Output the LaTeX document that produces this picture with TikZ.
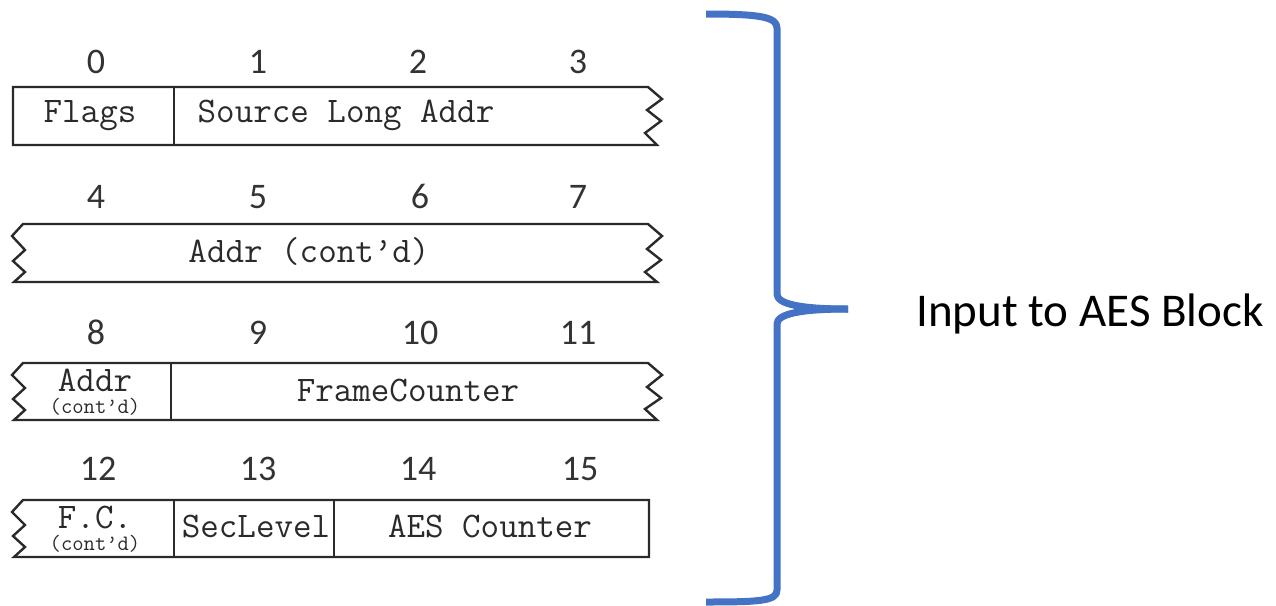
\documentclass[tikz,border=0pt]{standalone}
\usepackage{fontspec}
\setmainfont{Carlito}
\definecolor{braceblue}{HTML}{4472C4}
\definecolor{ink}{HTML}{2A2A2A}
\newcommand{\smalltt}[1]{{\fontsize{22}{25}\selectfont #1}}
\tikzset{
  field/.style={draw=ink, line width=2.4pt, line join=miter},
  sep/.style={draw=ink, line width=2.4pt},
  num/.style={anchor=base, inner sep=0pt, text=black!80, font=\fontsize{36}{40}\selectfont},
  lbl/.style={anchor=base, inner sep=0pt, text=ink, font=\ttfamily\fontsize{36}{40}\selectfont},
  stack/.style={anchor=center, inner sep=0pt, align=center, text=ink, font=\ttfamily\fontsize{36}{22}\selectfont},
  bracestyle/.style={draw=braceblue, line width=7pt, line cap=butt, line join=round},
}
\begin{document}
\begin{tikzpicture}[x=1pt,y=-1pt]
\useasboundingbox (0,0) rectangle (1276,605);
% numbers
\node[num] (n0) at (96,73) {0};
\node[num] (n1) at (258,73) {1};
\node[num] (n2) at (418,73) {2};
\node[num] (n3) at (578,73) {3};
\node[num] (n4) at (96,208) {4};
\node[num] (n5) at (258,208) {5};
\node[num] (n6) at (420,208) {6};
\node[num] (n7) at (578,208) {7};
\node[num] (n8) at (96,344) {8};
\node[num] (n9) at (258,344) {9};
\node[num] (n10) at (420,344) {10};
\node[num] (n11) at (578,344) {11};
\node[num] (n12) at (98,480) {12};
\node[num] (n13) at (258,480) {13};
\node[num] (n14) at (418,480) {14};
\node[num] (n15) at (580,480) {15};
% row 1
\draw[field] (648,87) -- (13,87) -- (13,145) -- (657,145) -- (645,133) -- (661,121) -- (647,110) -- (662,99) -- cycle;
\draw[sep] (174,87) -- (174,145);
\node[lbl] (flags) at (90,122) {Flags};
\node[lbl] (src) at (346,122) {Source Long Addr};
% row 2
\draw[field] (23,224) -- (648,224) -- (662,236) -- (647,249) -- (661,260) -- (645,272) -- (657,282) -- (14,282) -- (25,272) -- (13,261) -- (25,250) -- (12,236) -- cycle;
\node[lbl] (addr2) at (309,262) {Addr (cont’d)};
% row 3
\draw[field] (23,363) -- (648,363) -- (662,375) -- (647,387) -- (661,398) -- (645,409) -- (657,420) -- (14,420) -- (25,410) -- (13,399) -- (25,388) -- (12,375) -- cycle;
\draw[sep] (171,363) -- (171,420);
\node[stack] (addr3) at (95,392) {Addr\\\smalltt{(cont’d)}};
\node[lbl] (fc) at (408,401) {FrameCounter};
% row 4
\draw[field] (23,500) -- (649,500) -- (649,557) -- (14,557) -- (25,547) -- (13,536) -- (25,525) -- (12,512) -- cycle;
\draw[sep] (174,500) -- (174,557);
\draw[sep] (334,500) -- (334,557);
\node[stack] (fc4) at (95,529) {F.C.\\\smalltt{(cont’d)}};
\node[lbl] (sec) at (256,537) {SecLevel};
\node[lbl] (aes) at (490,537) {AES Counter};
% brace
\coordinate (btop) at (706,14);
\coordinate (btip) at (848,309);
\coordinate (bbot) at (706,602);
\draw[bracestyle] (btop) .. controls (760,14) and (777,17) .. (777,28) -- (777,294)
  .. controls (777,304) and (800,309) .. (btip);
\draw[bracestyle] (btip) .. controls (800,309) and (777,314) .. (777,324) -- (777,590)
  .. controls (777,601) and (760,602) .. (bbot);
\node[anchor=base, inner sep=0pt, font=\fontsize{47}{52}\selectfont] (label) at (1090,326) {Input to AES Block};
\end{tikzpicture}
\end{document}
